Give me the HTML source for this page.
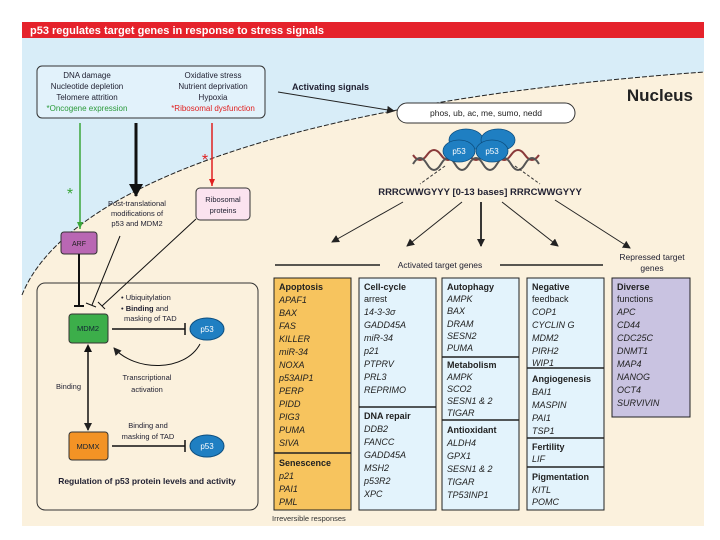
<!DOCTYPE html>
<html><head><meta charset="utf-8"><style>
html,body{margin:0;padding:0;background:#fff;}
svg{display:block;font-family:"Liberation Sans",sans-serif;}
.it{font-style:italic;}
</style></head><body>
<svg width="720" height="540" viewBox="0 0 720 540" xmlns="http://www.w3.org/2000/svg">
<defs>
<marker id="ah" markerWidth="8" markerHeight="8" refX="7" refY="4" orient="auto" markerUnits="userSpaceOnUse"><path d="M0,0 L8,4 L0,8 z" fill="#222"/></marker>
<marker id="ahg" markerWidth="8" markerHeight="8" refX="7" refY="4" orient="auto" markerUnits="userSpaceOnUse"><path d="M0,1 L7,4 L0,7 z" fill="#3aa63a"/></marker>
<marker id="ahr" markerWidth="8" markerHeight="8" refX="7" refY="4" orient="auto" markerUnits="userSpaceOnUse"><path d="M0,1 L7,4 L0,7 z" fill="#e02020"/></marker>
<marker id="ahb" markerWidth="14" markerHeight="14" refX="12" refY="7" orient="auto" markerUnits="userSpaceOnUse"><path d="M0,0 L13,7 L0,14 z" fill="#111"/></marker>
</defs>
<rect x="22" y="22" width="682" height="504" fill="#d8edf8"/>
<path d="M22,295 C60,200 250,105 704,72 L704,526 L22,526 z" fill="#fbf1dd"/>
<path d="M22,295 C60,200 250,105 704,72" fill="none" stroke="#222" stroke-width="1" stroke-dasharray="5,2"/>
<rect x="22" y="22" width="682" height="16" fill="#e5222b"/>
<text x="30" y="34" font-size="11" font-weight="bold" fill="#fff">p53 regulates target genes in response to stress signals</text>

<rect x="37" y="66" width="228" height="52" rx="5" fill="#e2f2fb" stroke="#333" stroke-width="1"/>
<g font-size="8" fill="#223" text-anchor="middle">
<text x="87" y="78">DNA damage</text><text x="87" y="89">Nucleotide depletion</text><text x="87" y="100">Telomere attrition</text>
<text x="87" y="111" fill="#2a9a3a">*Oncogene expression</text>
<text x="213" y="78">Oxidative stress</text><text x="213" y="89">Nutrient deprivation</text><text x="213" y="100">Hypoxia</text>
<text x="213" y="111" fill="#e02020">*Ribosomal dysfunction</text>
</g>
<line x1="278" y1="92" x2="394" y2="111" stroke="#222" stroke-width="1" marker-end="url(#ah)"/>
<text x="292" y="90" font-size="9" font-weight="bold" fill="#223">Activating signals</text>
<text x="693" y="101" font-size="17" font-weight="bold" fill="#222" text-anchor="end">Nucleus</text>
<rect x="397" y="103" width="178" height="20" rx="10" fill="#fff" stroke="#333"/>
<text x="486" y="116" font-size="8.5" text-anchor="middle" fill="#222">phos, ub, ac, me, sumo, nedd</text>

<path d="M413,155 Q420,165 427,155 T441,155 T455,155 T469,155 T483,155 T497,155 T511,155 T525,155 T539,155" fill="none" stroke="#8a3a3a" stroke-width="2"/>
<path d="M413,164 Q420,152 427,164 T441,164 T455,164 T469,164 T483,164 T497,164 T511,164 T525,164 T539,164" fill="none" stroke="#555" stroke-width="2"/>
<g fill="#1f7fc2" stroke="#0d4f80" stroke-width="0.8">
<ellipse cx="466" cy="140" rx="17" ry="11"/><ellipse cx="498" cy="140" rx="17" ry="11"/>
<ellipse cx="459" cy="151" rx="16" ry="11"/><ellipse cx="492" cy="151" rx="16" ry="11"/>
</g>
<text x="459" y="154" font-size="8" fill="#fff" text-anchor="middle">p53</text>
<text x="492" y="154" font-size="8" fill="#fff" text-anchor="middle">p53</text>
<line x1="445" y1="166" x2="420" y2="184" stroke="#333" stroke-dasharray="3,2"/>
<line x1="515" y1="166" x2="540" y2="184" stroke="#333" stroke-dasharray="3,2"/>
<text x="480" y="195" font-size="9.5" font-weight="bold" fill="#223" text-anchor="middle">RRRCWWGYYY [0-13 bases] RRRCWWGYYY</text>
<g stroke="#222" stroke-width="1">
<line x1="403" y1="202" x2="332" y2="242" marker-end="url(#ah)"/>
<line x1="462" y1="202" x2="407" y2="246" marker-end="url(#ah)"/>
<line x1="481" y1="202" x2="481" y2="246" stroke-width="1.8" marker-end="url(#ah)"/>
<line x1="502" y1="202" x2="558" y2="246" marker-end="url(#ah)"/>
<line x1="555" y1="200" x2="630" y2="248" marker-end="url(#ah)"/>
</g>
<line x1="275" y1="265" x2="380" y2="265" stroke="#222" stroke-width="1.5"/>
<line x1="500" y1="265" x2="603" y2="265" stroke="#222" stroke-width="1.5"/>
<text x="440" y="268" font-size="8.5" text-anchor="middle" fill="#223">Activated target genes</text>
<text x="652" y="260" font-size="8.5" text-anchor="middle" fill="#223">Repressed target</text>
<text x="652" y="271" font-size="8.5" text-anchor="middle" fill="#223">genes</text>

<g stroke="#222" stroke-width="1">
<rect x="274" y="278" width="77" height="232" fill="#f7c45e"/>
<rect x="359" y="278" width="77" height="232" fill="#e3f3fc"/>
<rect x="442" y="278" width="77" height="232" fill="#e3f3fc"/>
<rect x="527" y="278" width="77" height="232" fill="#e3f3fc"/>
<rect x="612" y="278" width="78" height="139" fill="#c9c3e1"/>
</g>
<g stroke="#222" stroke-width="1.5">
<line x1="274" y1="453" x2="351" y2="453"/>
<line x1="359" y1="407" x2="436" y2="407"/>
<line x1="442" y1="357" x2="519" y2="357"/>
<line x1="442" y1="420" x2="519" y2="420"/>
<line x1="527" y1="368" x2="604" y2="368"/>
<line x1="527" y1="438" x2="604" y2="438"/>
<line x1="527" y1="467" x2="604" y2="467"/>
</g>
<g font-size="9" fill="#222">
<g transform="translate(279,0)">
<text y="290" font-weight="bold">Apoptosis</text>
<g class="it"><text y="303">APAF1</text><text y="316">BAX</text><text y="329">FAS</text><text y="342">KILLER</text><text y="355">miR-34</text><text y="368">NOXA</text><text y="381">p53AIP1</text><text y="394">PERP</text><text y="407">PIDD</text><text y="420">PIG3</text><text y="433">PUMA</text><text y="446">SIVA</text></g>
<text y="466" font-weight="bold">Senescence</text>
<g class="it"><text y="479">p21</text><text y="492">PAI1</text><text y="505">PML</text></g>
</g>
<g transform="translate(364,0)">
<text y="290" font-weight="bold">Cell-cycle</text><text y="302">arrest</text>
<g class="it"><text y="315">14-3-3σ</text><text y="328">GADD45A</text><text y="341">miR-34</text><text y="354">p21</text><text y="367">PTPRV</text><text y="380">PRL3</text><text y="393">REPRIMO</text></g>
<text y="419" font-weight="bold">DNA repair</text>
<g class="it"><text y="432">DDB2</text><text y="445">FANCC</text><text y="458">GADD45A</text><text y="471">MSH2</text><text y="484">p53R2</text><text y="497">XPC</text></g>
</g>
<g transform="translate(447,0)">
<text y="290" font-weight="bold">Autophagy</text>
<g class="it"><text y="302">AMPK</text><text y="314">BAX</text><text y="327">DRAM</text><text y="339">SESN2</text><text y="351">PUMA</text></g>
<text y="368" font-weight="bold">Metabolism</text>
<g class="it"><text y="380">AMPK</text><text y="392">SCO2</text><text y="404">SESN1 &amp; 2</text><text y="416">TIGAR</text></g>
<text y="433" font-weight="bold">Antioxidant</text>
<g class="it"><text y="446">ALDH4</text><text y="459">GPX1</text><text y="472">SESN1 &amp; 2</text><text y="485">TIGAR</text><text y="498">TP53INP1</text></g>
</g>
<g transform="translate(532,0)">
<text y="290" font-weight="bold">Negative</text><text y="302">feedback</text>
<g class="it"><text y="315">COP1</text><text y="328">CYCLIN G</text><text y="341">MDM2</text><text y="354">PIRH2</text><text y="366">WIP1</text></g>
<text y="382" font-weight="bold">Angiogenesis</text>
<g class="it"><text y="395">BAI1</text><text y="408">MASPIN</text><text y="421">PAI1</text><text y="434">TSP1</text></g>
<text y="450" font-weight="bold">Fertility</text>
<g class="it"><text y="462">LIF</text></g>
<text y="480" font-weight="bold">Pigmentation</text>
<g class="it"><text y="493">KITL</text><text y="505">POMC</text></g>
</g>
<g transform="translate(617,0)">
<text y="290" font-weight="bold">Diverse</text><text y="302">functions</text>
<g class="it"><text y="315">APC</text><text y="328">CD44</text><text y="341">CDC25C</text><text y="354">DNMT1</text><text y="367">MAP4</text><text y="380">NANOG</text><text y="393">OCT4</text><text y="406">SURVIVIN</text></g>
</g>
</g>
<text x="272" y="521" font-size="7.5" fill="#333">Irreversible responses</text>

<line x1="80" y1="123" x2="80" y2="229" stroke="#3aa63a" stroke-width="1.5" marker-end="url(#ahg)"/>
<text x="70" y="199" font-size="16" fill="#3aa63a" text-anchor="middle">*</text>
<line x1="136" y1="123" x2="136" y2="196" stroke="#111" stroke-width="3" marker-end="url(#ahb)"/>
<line x1="212" y1="123" x2="212" y2="186" stroke="#e02020" stroke-width="1.5" marker-end="url(#ahr)"/>
<text x="205" y="165" font-size="16" fill="#e02020" text-anchor="middle">*</text>
<rect x="196" y="188" width="54" height="32" rx="4" fill="#fbe3ef" stroke="#333"/>
<text x="223" y="202" font-size="7.5" text-anchor="middle" fill="#223">Ribosomal</text>
<text x="223" y="213" font-size="7.5" text-anchor="middle" fill="#223">proteins</text>
<g font-size="7.5" text-anchor="middle" fill="#223"><text x="137" y="206">Post-translational</text><text x="137" y="216">modifications of</text><text x="137" y="226">p53 and MDM2</text></g>
<rect x="61" y="232" width="36" height="22" rx="3" fill="#b967b3" stroke="#333"/>
<text x="79" y="246" font-size="7" text-anchor="middle" fill="#222">ARF</text>

<rect x="37" y="283" width="221" height="227" rx="8" fill="#fbf1dd" stroke="#333"/>
<line x1="79" y1="254" x2="79" y2="306" stroke="#111" stroke-width="2"/>
<line x1="74" y1="306" x2="84" y2="306" stroke="#111" stroke-width="2"/>
<line x1="120" y1="236" x2="92" y2="305" stroke="#111" stroke-width="1"/>
<line x1="86" y1="303" x2="96" y2="307" stroke="#111" stroke-width="1"/>
<line x1="196" y1="219" x2="102" y2="306" stroke="#111" stroke-width="1"/>
<line x1="98" y1="302" x2="105" y2="309" stroke="#111" stroke-width="1"/>
<rect x="69" y="314" width="39" height="29" rx="3" fill="#3cae4a" stroke="#333"/>
<text x="88" y="331" font-size="7.5" text-anchor="middle" fill="#123">MDM2</text>
<g font-size="7.5" fill="#223"><text x="121" y="300">• Ubiquitylation</text><text x="121" y="311">• <tspan font-weight="bold">Binding</tspan> and</text><text x="124" y="321">masking of TAD</text></g>
<line x1="112" y1="329" x2="185" y2="329" stroke="#111" stroke-width="1.5"/>
<line x1="185" y1="323" x2="185" y2="335" stroke="#111" stroke-width="1.5"/>
<ellipse cx="207" cy="329" rx="17" ry="11" fill="#1f7fc2" stroke="#0d4f80"/>
<text x="207" y="332" font-size="8" fill="#fff" text-anchor="middle">p53</text>
<path d="M200,344 C185,372 135,372 114,348" fill="none" stroke="#111" stroke-width="1" marker-end="url(#ah)"/>
<g font-size="7.5" text-anchor="middle" fill="#223"><text x="147" y="380">Transcriptional</text><text x="147" y="392">activation</text></g>
<line x1="88" y1="347" x2="88" y2="430" stroke="#111" stroke-width="1.5" marker-end="url(#ah)"/>
<path d="M84,352 L88,344 L92,352 z" fill="#111"/>
<text x="56" y="389" font-size="7.5" fill="#223">Binding</text>
<rect x="69" y="432" width="39" height="28" rx="3" fill="#f39325" stroke="#333"/>
<text x="88" y="449" font-size="7.5" text-anchor="middle" fill="#123">MDMX</text>
<g font-size="7.5" text-anchor="middle" fill="#223"><text x="148" y="428">Binding and</text><text x="148" y="439">masking of TAD</text></g>
<line x1="112" y1="446" x2="185" y2="446" stroke="#111" stroke-width="1.5"/>
<line x1="185" y1="440" x2="185" y2="452" stroke="#111" stroke-width="1.5"/>
<ellipse cx="207" cy="446" rx="17" ry="11" fill="#1f7fc2" stroke="#0d4f80"/>
<text x="207" y="449" font-size="8" fill="#fff" text-anchor="middle">p53</text>
<text x="147" y="484" font-size="8.5" font-weight="bold" text-anchor="middle" fill="#223">Regulation of p53 protein levels and activity</text>
</svg>
</body></html>
